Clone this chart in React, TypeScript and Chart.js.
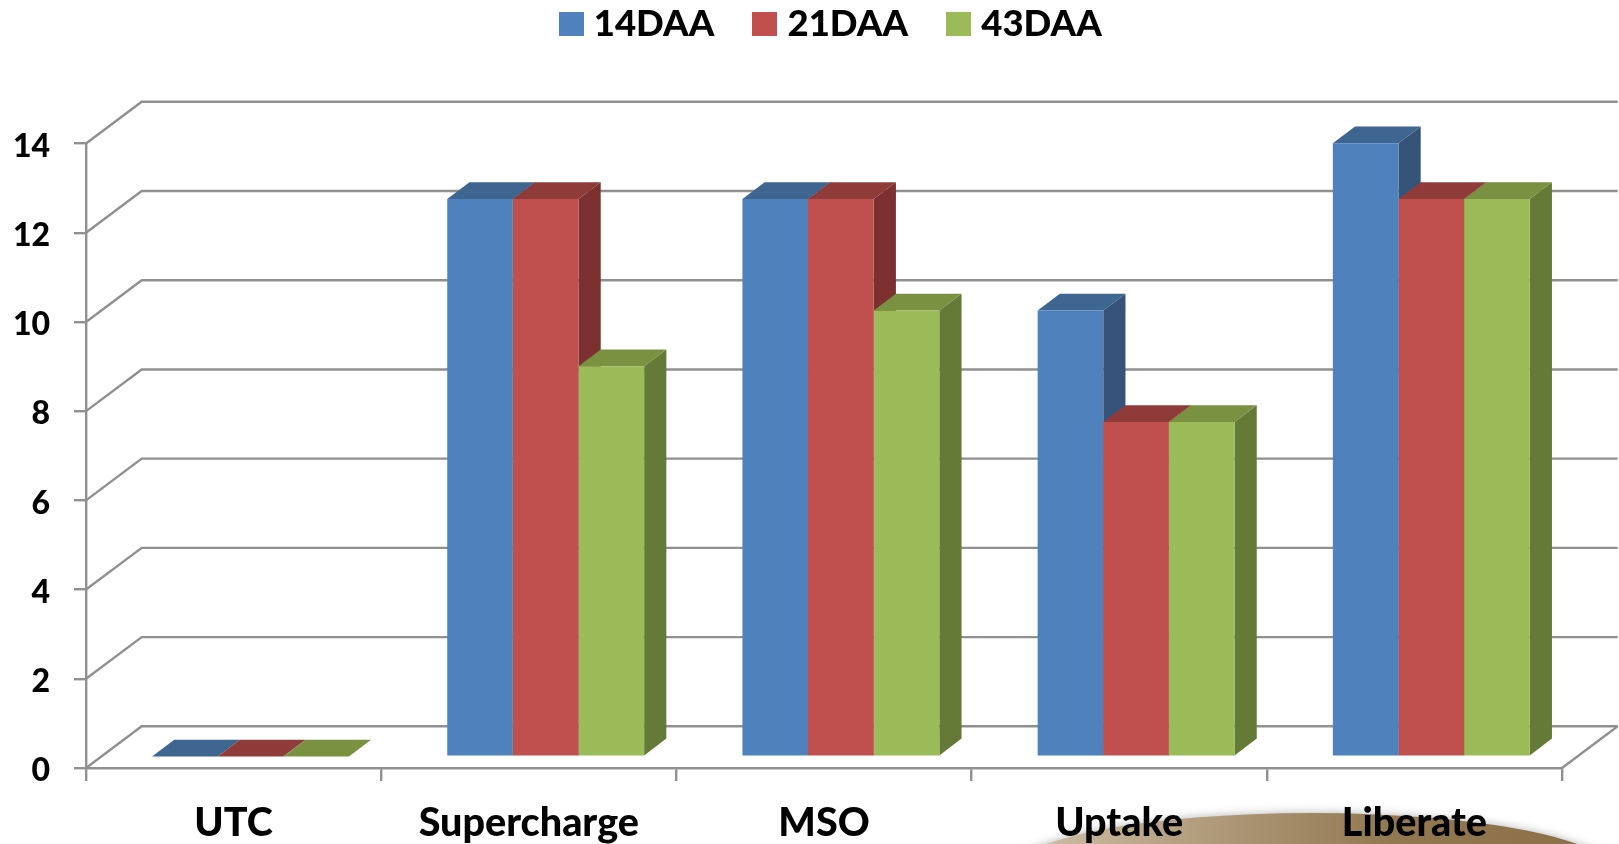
import React, { useEffect, useRef } from "react";
import { Chart, registerables } from "chart.js";

Chart.register(...registerables);

const categories = ["UTC", "Supercharge", "MSO", "Uptake", "Liberate"];
const seriesNames = ["14DAA", "21DAA", "43DAA"];
const values14 = [0, 12.5, 12.5, 10, 13.75];
const values21 = [0, 12.5, 12.5, 7.5, 12.5];
const values43 = [0, 8.75, 10, 7.5, 12.5];
const frontColors = ["#4f81bd", "#c0504d", "#9bbb59"];
const topColors = ["#3f6591", "#8f3b39", "#7a9142"];
const sideColors = ["#365479", "#7c302f", "#667a37"];
const gridColor = "#909090";
const FONT = "Lato";

const WALL = { dx: 55.7, dy: -41.7 };
const PLANE = { dx: 16.9, dy: -11.4 };
const DEPTH = { dx: 22.2, dy: -16.8 };

function swatch(color: string) {
  const c = document.createElement("canvas");
  c.width = 25;
  c.height = 24;
  const g = c.getContext("2d")!;
  g.fillStyle = color;
  g.fillRect(0, 0, 25, 24);
  return c;
}

const poly = (ctx: CanvasRenderingContext2D, pts: number[][], fill: string) => {
  ctx.beginPath();
  pts.forEach((p, i) => (i ? ctx.lineTo(p[0], p[1]) : ctx.moveTo(p[0], p[1])));
  ctx.closePath();
  ctx.fillStyle = fill;
  ctx.fill();
};

const scene = {
  id: "scene3d",
  beforeDraw(chart: any) {
    const ctx: CanvasRenderingContext2D = chart.ctx;
    ctx.save();
    ctx.fillStyle = "#ffffff";
    ctx.fillRect(0, 0, chart.width, chart.height);
    // decorative brown swoosh behind the axis labels
    const g = ctx.createLinearGradient(1040, 0, 1584, 0);
    g.addColorStop(0, "#cdbda4");
    g.addColorStop(0.35, "#ac9675");
    g.addColorStop(0.65, "#927850");
    g.addColorStop(1, "#8b7048");
    ctx.shadowColor = "rgba(0,0,0,0.3)";
    ctx.shadowBlur = 10;
    ctx.fillStyle = g;
    ctx.beginPath();
    ctx.ellipse(1312, 873, 303, 60, 0, 0, Math.PI * 2);
    ctx.fill();
    ctx.restore();
  },
  afterLayout(chart: any) {
    const l = chart.legend;
    const pad = l.options.labels.padding;
    const w = l.right - l.left;
    l.left = 566.5 - pad;
    l.right = l.left + w;
    l.top = 5.5 - pad;
    // Calibri-like labels sit lower against their ticks
    chart.scales.y.getLabelItems().forEach((item: any) => {
      item.options.translation[1] += 3;
    });
  },
  beforeDatasetsDraw(chart: any) {
    const ctx: CanvasRenderingContext2D = chart.ctx;
    const { left, right, bottom } = chart.chartArea;
    const y = chart.scales.y;
    ctx.save();
    ctx.strokeStyle = gridColor;
    ctx.lineWidth = 2.4;
    y.ticks.forEach((t: any) => {
      const py = y.getPixelForValue(t.value);
      ctx.beginPath();
      ctx.moveTo(left, py);
      ctx.lineTo(left + WALL.dx, py + WALL.dy);
      ctx.lineTo(right + WALL.dx, py + WALL.dy);
      ctx.stroke();
    });
    ctx.beginPath();
    ctx.moveTo(right, bottom);
    ctx.lineTo(right + WALL.dx, bottom + WALL.dy);
    ctx.stroke();
    ctx.restore();

    ctx.save();
    ctx.translate(PLANE.dx, PLANE.dy);
    chart.data.datasets.forEach((_: any, i: number) => {
      chart.getDatasetMeta(i).data.forEach((bar: any) => {
        const { x, y: top, base, width } = bar.getProps(["x", "y", "base", "width"]);
        const r = x + width / 2;
        const l = x - width / 2;
        poly(ctx, [[r, top], [r + DEPTH.dx, top + DEPTH.dy], [r + DEPTH.dx, base + DEPTH.dy], [r, base]], sideColors[i]);
        poly(ctx, [[l, top], [l + DEPTH.dx, top + DEPTH.dy], [r + DEPTH.dx, top + DEPTH.dy], [r, top]], topColors[i]);
      });
    });
    ctx.restore();

    // the fronts drawn by Chart.js sit on the same plane
    ctx.save();
    ctx.translate(PLANE.dx, PLANE.dy);
  },
  afterDatasetsDraw(chart: any) {
    chart.ctx.restore();
  },
};

export default function App() {
  const ref = useRef<HTMLCanvasElement>(null);
  useEffect(() => {
    const allValues = [values14, values21, values43];
    const chart = new Chart(ref.current!, {
      type: "bar",
      data: {
        labels: categories,
        datasets: seriesNames.map((name, i) => ({
          label: name,
          data: allValues[i],
          backgroundColor: frontColors[i],
          borderWidth: 0,
          categoryPercentage: 0.667,
          barPercentage: 1,
          clip: false,
        })),
      },
      plugins: [scene],
      options: {
        responsive: false,
        animation: false,
        layout: { padding: { top: 83.5, right: 57, left: 0, bottom: 0 } },
        plugins: {
          title: { display: false },
          tooltip: { enabled: false },
          legend: {
            display: true,
            position: "top",
            align: "start",
            maxHeight: 60,
            labels: {
              usePointStyle: true,
              pointStyleWidth: 9,
              padding: 46,
              color: "#000000",
              font: { family: FONT, size: 36.5, weight: 900 },
              generateLabels: () =>
                seriesNames.map((name, i) => ({
                  text: name,
                  fillStyle: frontColors[i],
                  strokeStyle: frontColors[i],
                  lineWidth: 0,
                  pointStyle: swatch(frontColors[i]),
                  datasetIndex: i,
                  hidden: false,
                })),
            },
          },
        },
        scales: {
          x: {
            grid: { drawOnChartArea: false, drawTicks: true, tickLength: 13, color: gridColor, lineWidth: 2.4 },
            border: { color: gridColor, width: 2.4 },
            ticks: { color: "#000000", padding: 19, maxRotation: 0, font: { family: FONT, size: 39.5, weight: 900 } },
            afterFit: (s: any) => { s.height = 76; },
          },
          y: {
            min: 0,
            max: 14,
            grid: { drawOnChartArea: false, drawTicks: true, tickLength: 12, color: gridColor, lineWidth: 2.4 },
            border: { color: gridColor, width: 2.4 },
            ticks: { stepSize: 2, color: "#000000", padding: 24, font: { family: FONT, size: 32, weight: 900 } },
            afterFit: (s: any) => { s.width = 86; },
          },
        },
      },
    } as any);
    return () => chart.destroy();
  }, []);
  return (
    <canvas
      ref={ref}
      width={1619}
      height={844}
      style={{ position: "absolute", left: 0, top: 0, display: "block" }}
    />
  );
}
